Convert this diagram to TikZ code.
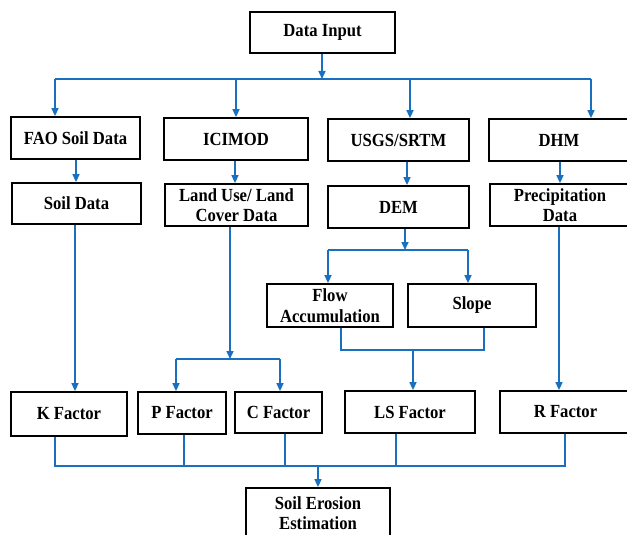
\documentclass[tikz,border=0pt]{standalone}
\usepackage{fontspec}
\setmainfont{Liberation Serif}
\newfontfamily\boxfont{Liberation Serif}[FakeStretch=0.9]
\usetikzlibrary{arrows.meta,calc}
\definecolor{lineblue}{RGB}{24,112,190}
\begin{document}
\begin{tikzpicture}[x=1pt,y=-1pt,
  box/.style={draw=black,line width=1.8pt,fill=white,inner sep=0pt,align=center,
    font=\boxfont\fontsize{18.5}{20.5}\selectfont\bfseries},
  link/.style={draw=lineblue,line width=1.6pt},
  arr/.style={link,-{Triangle[length=8pt,width=7pt]}}]
\useasboundingbox (0,0) rectangle (627,535);
\clip (0,0) rectangle (627,535);
% nodes
\node[box,minimum width=145pt,minimum height=41pt] (datain) at (322.5,32.5) {Data Input};
\node[box,minimum width=129pt,minimum height=42pt] (fao) at (75.5,138) {FAO Soil Data};
\node[box,minimum width=144pt,minimum height=42pt] (icimod) at (236,139) {ICIMOD};
\node[box,minimum width=141pt,minimum height=42pt] (usgs) at (398.5,140) {USGS/SRTM};
\node[box,minimum width=140pt,minimum height=42pt] (dhm) at (559,140) {DHM};
\node[box,minimum width=129pt,minimum height=41pt] (soil) at (76.5,203.5) {Soil Data};
\node[box,minimum width=143pt,minimum height=42pt] (landuse) at (236.5,205) {Land Use/ Land\\Cover Data};
\node[box,minimum width=141pt,minimum height=42pt] (dem) at (398.5,207) {DEM};
\node[box,minimum width=140pt,minimum height=42pt] (precip) at (560,205) {Precipitation\\Data};
\node[box,minimum width=126pt,minimum height=43pt] (flow) at (330,305.5) {Flow\\Accumulation};
\node[box,minimum width=128pt,minimum height=43pt] (slope) at (472,305.5) {Slope};
\node[box,minimum width=116pt,minimum height=44pt] (kf) at (69,414) {K Factor};
\node[box,minimum width=88pt,minimum height=42pt] (pf) at (182,413) {P Factor};
\node[box,minimum width=87pt,minimum height=41pt] (cf) at (278.5,412.5) {C Factor};
\node[box,minimum width=130pt,minimum height=42pt] (ls) at (410,412) {LS Factor};
\node[box,minimum width=131pt,minimum height=42pt] (rf) at (565.5,412) {R Factor};
\node[box,minimum width=144pt,minimum height=50pt] (se) at (318,513) {Soil Erosion\\Estimation};
% junction coordinates
\coordinate (j0) at (322,79);
\coordinate (jfao) at (55,79);
\coordinate (jici) at (236,79);
\coordinate (jusgs) at (410,79);
\coordinate (jdhm) at (591,79);
\coordinate (jlu) at (230,359);
\coordinate (jpl) at (176,359);
\coordinate (jcr) at (280,359);
\coordinate (jdem) at (405,250);
\coordinate (jdl) at (328,250);
\coordinate (jdr) at (468,250);
\coordinate (jfl) at (341,350);
\coordinate (jsl) at (484,350);
\coordinate (jls) at (413,350);
\coordinate (bk) at (55,466);
\coordinate (bp) at (184,466);
\coordinate (bc) at (285,466);
\coordinate (bl) at (396,466);
\coordinate (br) at (565,466);
\coordinate (bse) at (318,466);
% top distribution
\draw[arr] (datain.south -| j0) -- (j0);
\draw[link] (jfao) -- (jdhm);
\draw[arr] (jfao) -- (jfao |- fao.north);
\draw[arr] (jici) -- (jici |- icimod.north);
\draw[arr] (jusgs) -- (jusgs |- usgs.north);
\draw[arr] (jdhm) -- (jdhm |- dhm.north);
% second row
\draw[arr] (76,0 |- fao.south) -- (76,0 |- soil.north);
\draw[arr] (235,0 |- icimod.south) -- (235,0 |- landuse.north);
\draw[arr] (407,0 |- usgs.south) -- (407,0 |- dem.north);
\draw[arr] (560,0 |- dhm.south) -- (560,0 |- precip.north);
% soil to K
\draw[arr] (75,0 |- soil.south) -- (75,0 |- kf.north);
% land use to P and C
\draw[arr] (jlu |- landuse.south) -- (jlu);
\draw[link] (jpl) -- (jcr);
\draw[arr] (jpl) -- (jpl |- pf.north);
\draw[arr] (jcr) -- (jcr |- cf.north);
% DEM branch
\draw[arr] (jdem |- dem.south) -- (jdem);
\draw[link] (jdl) -- (jdr);
\draw[arr] (jdl) -- (jdl |- flow.north);
\draw[arr] (jdr) -- (jdr |- slope.north);
\draw[link] (jfl |- flow.south) -- (jfl) -- (jsl) -- (jsl |- slope.south);
\draw[arr] (jls) -- (jls |- ls.north);
% precip to R
\draw[arr] (559,0 |- precip.south) -- (559,0 |- rf.north);
% bottom collection
\draw[link] (bk |- kf.south) -- (bk) -- (br) -- (br |- rf.south);
\draw[link] (bp |- pf.south) -- (bp);
\draw[link] (bc |- cf.south) -- (bc);
\draw[link] (bl |- ls.south) -- (bl);
\draw[arr] (bse) -- (bse |- se.north);
\end{tikzpicture}
\end{document}
